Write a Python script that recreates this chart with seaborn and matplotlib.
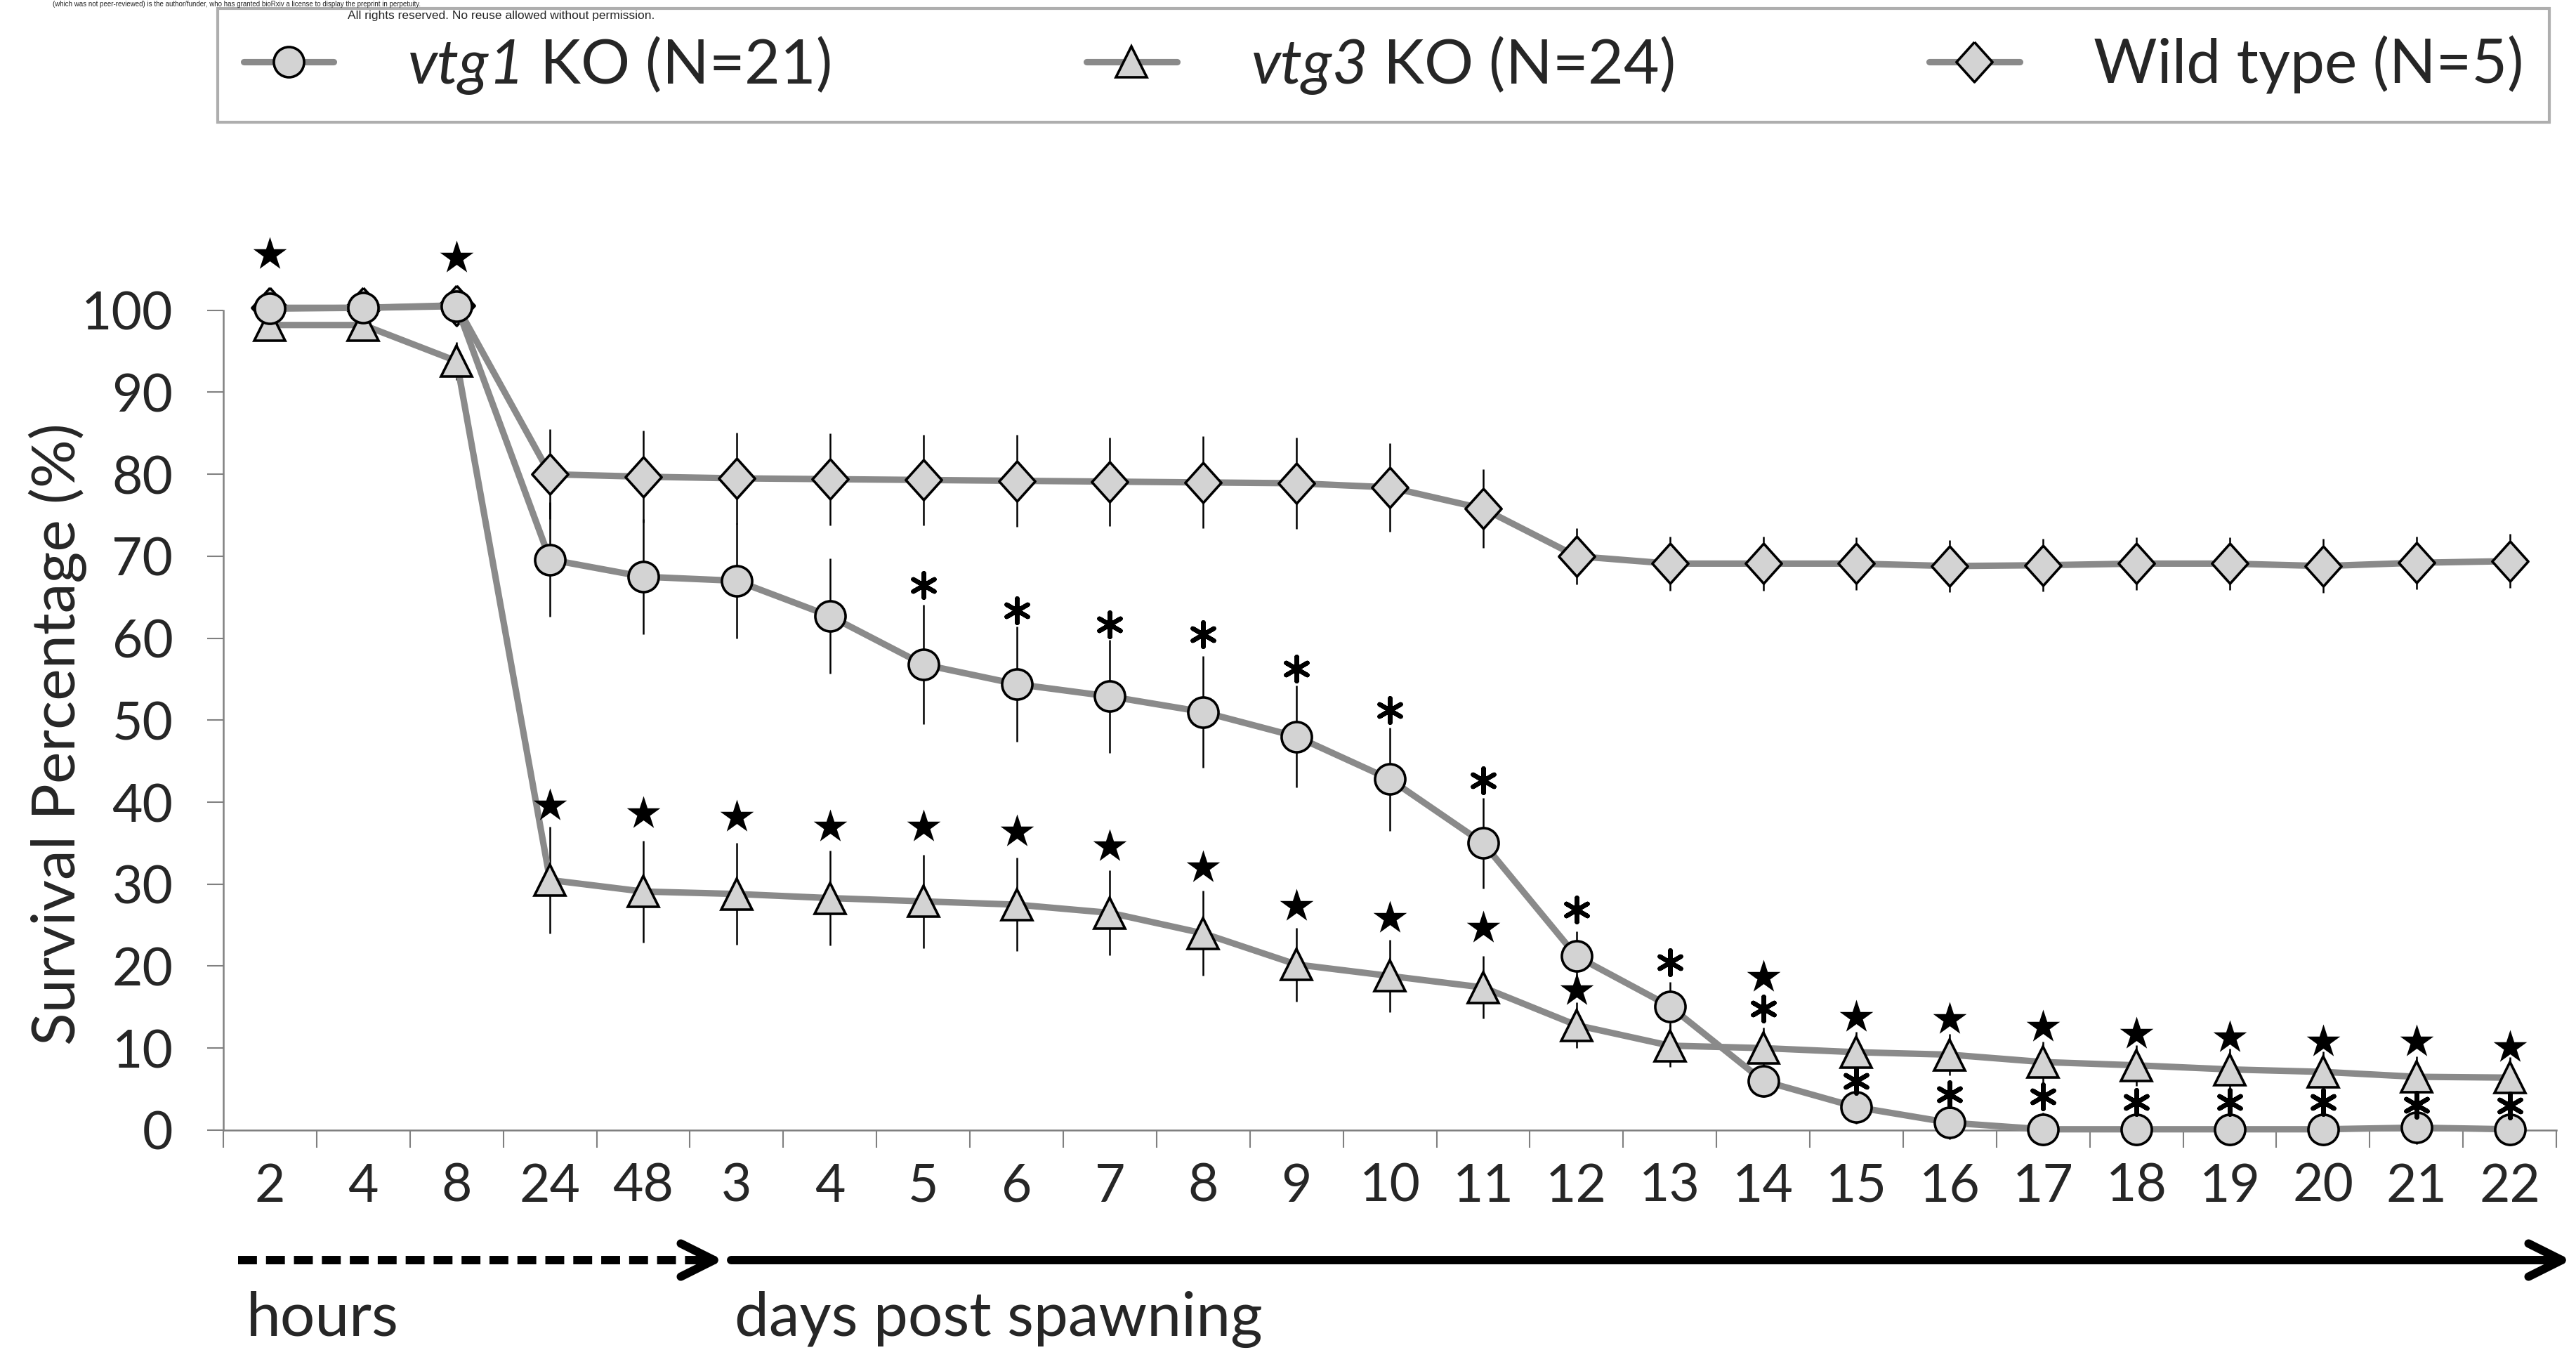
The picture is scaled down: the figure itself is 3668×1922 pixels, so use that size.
import numpy as np
import pandas as pd
import matplotlib.pyplot as plt
import seaborn as sns
from matplotlib.lines import Line2D

# x categories: hours first, then days post spawning
time_labels = ["2", "4", "8", "24", "48", "3", "4", "5", "6", "7", "8", "9", "10",
               "11", "12", "13", "14", "15", "16", "17", "18", "19", "20", "21", "22"]

# survival (%)
vtg1_ko = [100.2, 100.3, 100.5, 69.6, 67.5, 67.0, 62.7, 56.8, 54.4, 52.9, 51.0, 48.0, 42.8,
           35.0, 21.2, 15.1, 6.0, 2.8, 0.9, 0.1, 0.1, 0.1, 0.1, 0.3, 0.1]
vtg1_err = [0, 0, 0, 7.0, 7.0, 7.0, 7.0, 7.3, 7.0, 6.9, 6.8, 6.2, 6.3,
            5.5, 3.0, 3.0, 2.0, 2.0, 2.0, 2.0, 2.0, 2.0, 2.0, 2.0, 2.0]

vtg3_ko = [98.2, 98.2, 93.8, 30.5, 29.1, 28.8, 28.3, 27.9, 27.5, 26.5, 24.0, 20.2, 18.8,
           17.4, 12.8, 10.3, 10.0, 9.5, 9.2, 8.3, 7.9, 7.4, 7.1, 6.5, 6.4]
vtg3_err = [0, 0, 2.3, 6.5, 6.2, 6.2, 5.8, 5.7, 5.7, 5.2, 5.2, 4.5, 4.4,
            3.8, 2.8, 2.6, 2.5, 2.5, 2.5, 2.5, 2.5, 2.5, 2.5, 2.5, 2.5]

wild_type = [100.3, 100.3, 100.6, 80.0, 79.7, 79.5, 79.4, 79.3, 79.2, 79.1, 79.0, 78.9, 78.4,
             75.8, 70.0, 69.1, 69.1, 69.1, 68.8, 68.9, 69.1, 69.1, 68.8, 69.2, 69.4]
wild_err = [0, 0, 0, 5.5, 5.6, 5.6, 5.6, 5.5, 5.6, 5.4, 5.6, 5.6, 5.4,
            4.8, 3.4, 3.3, 3.3, 3.2, 3.2, 3.2, 3.2, 3.2, 3.3, 3.2, 3.3]

# significance marks (category index, height)
star_idx = [0, 2, 3, 4, 5, 6, 7, 8, 9, 10, 11, 12, 13, 14, 16, 17, 18, 19, 20, 21, 22, 23, 24]
star_y = [106.8, 106.4, 39.6, 38.6, 38.2, 37.0, 37.0, 36.4, 34.6, 32.0, 27.3, 25.9, 24.7,
          17.0, 18.7, 13.8, 13.5, 12.6, 11.7, 11.3, 10.8, 10.8, 10.1]
asterisk_idx = [7, 8, 9, 10, 11, 12, 13, 14, 15, 16, 17, 18, 19, 20, 21, 22, 23, 24]
asterisk_y = [66.5, 63.4, 61.7, 60.5, 56.3, 51.2, 42.7, 26.9, 20.5, 14.8, 6.0, 4.4, 4.1,
              3.4, 3.4, 3.4, 3.1, 3.0]

legend_labels = [r"$\mathit{vtg1}$ KO (N=21)", r"$\mathit{vtg3}$ KO (N=24)", "Wild type (N=5)"]

sns.set_style("ticks")
plt.rcParams["font.family"] = ["Lato", "DejaVu Sans"]
plt.rcParams["mathtext.fontset"] = "custom"
plt.rcParams["mathtext.rm"] = "Lato:italic"
plt.rcParams["mathtext.it"] = "Lato:italic"

line_gray = "#8a8a8a"
face_gray = "#d3d3d3"
axis_gray = "#808080"

fig = plt.figure(figsize=(36.68, 19.22), dpi=100)
ax = fig.add_axes([0.0867, 0.1629, 0.9057, 0.668])

x = np.arange(len(time_labels))
df = pd.DataFrame({"t": x, "vtg1": vtg1_ko, "vtg3": vtg3_ko, "wt": wild_type})

diamond = [(0, 1), (0.9, 0), (0, -1), (-0.9, 0), (0, 1)]
series = [
    ("wt", wild_err, diamond, 41, legend_labels[2], 3.0),
    ("vtg3", vtg3_err, "^", 32, legend_labels[1], 3.1),
    ("vtg1", vtg1_err, "o", 31, legend_labels[0], 3.2),
]
for col, err, mk, ms, lab, z in series:
    ax.errorbar(df["t"], df[col], yerr=err, fmt="none", ecolor="black",
                elinewidth=1.8, capsize=0, zorder=2.5, clip_on=False)
    sns.lineplot(data=df, x="t", y=col, ax=ax, color=line_gray, linewidth=6.6,
                 marker=mk, markersize=ms, markerfacecolor=face_gray,
                 markeredgecolor="black", markeredgewidth=2.6, label=lab,
                 legend=False, errorbar=None, zorder=z, clip_on=False)

sns.scatterplot(x=star_idx, y=star_y, ax=ax, marker="*", s=1300, color="black",
                edgecolor="black", linewidth=0, zorder=4, clip_on=False, legend=False)
sns.scatterplot(x=asterisk_idx, y=asterisk_y, ax=ax, marker=(6, 2, 0), s=620,
                color="black", linewidth=4.6, zorder=4, clip_on=False, legend=False)

ax.set_xlim(-0.5, len(time_labels) - 0.5)
ax.set_ylim(0, 110)
ax.set_yticks(np.arange(0, 101, 10))
ax.set_xticks(x)
ax.set_xticklabels(time_labels)
ax.set_xticks(np.arange(-0.5, len(time_labels), 1), minor=True)
ax.tick_params(axis="x", which="major", length=0, pad=33, labelsize=54)
ax.tick_params(axis="x", which="minor", length=18, width=1.5, color=axis_gray, direction="out")
ax.tick_params(axis="y", length=16.5, width=1.5, color=axis_gray, pad=35, labelsize=54,
               direction="out")
ax.set_xlabel("")
ax.set_ylabel("Survival Percentage (%)", fontsize=62)
ax.yaxis.label.set_va("center")
ax.yaxis.set_label_coords(-0.071, 0.439)

sns.despine(ax=ax)
for side in ["left", "bottom"]:
    ax.spines[side].set_color(axis_gray)
    ax.spines[side].set_linewidth(1.8)
ax.spines["left"].set_bounds(0, 100)

# legend box across the top
handles, labels = ax.get_legend_handles_labels()
order = [labels.index(l) for l in legend_labels]
leg = fig.legend([handles[i] for i in order], legend_labels, ncol=3, loc="center",
                 mode="expand", bbox_to_anchor=(310 / 3668, 1 - 176 / 1922, 3320 / 3668, 166 / 1922),
                 fontsize=63, frameon=True, fancybox=False, edgecolor="#9a9a9a",
                 handlelength=1.47, handletextpad=1.2, borderpad=0.42, borderaxespad=0)
leg.get_frame().set_linewidth(3)
leg.set_zorder(4)

# time axis arrows and captions
arrow_y = 1 - 1794 / 1922
fig.add_artist(Line2D([339 / 3668, 1000 / 3668], [arrow_y, arrow_y], transform=fig.transFigure,
                      color="black", linewidth=8.6, linestyle=(0, (2.25, 1.08))))
ax.annotate("", xy=(1030 / 3668, arrow_y), xytext=(995 / 3668, arrow_y),
            xycoords="figure fraction", textcoords="figure fraction",
            arrowprops=dict(arrowstyle="->,head_length=1.7,head_width=0.85", lw=8.6,
                            color="black", mutation_scale=20, shrinkA=0, shrinkB=0))
ax.annotate("", xy=(3661 / 3668, arrow_y), xytext=(1041 / 3668, arrow_y),
            xycoords="figure fraction", textcoords="figure fraction",
            arrowprops=dict(arrowstyle="->,head_length=1.7,head_width=0.85", lw=8.6,
                            color="black", mutation_scale=20, shrinkA=0, shrinkB=0))
fig.text(351 / 3668, 1 - 1902 / 1922, "hours", fontsize=63, va="baseline")
fig.text(1046 / 3668, 1 - 1902 / 1922, "days post spawning", fontsize=63, va="baseline")

# preprint notice at the very top
fig.text(75 / 3668, 0.9997,
         "(which was not peer-reviewed) is the author/funder, who has granted bioRxiv a license "
         "to display the preprint in perpetuity.",
         fontsize=7, family=["Liberation Sans", "DejaVu Sans"], va="top", zorder=6)
fig.text(714 / 3668, 1 - 27 / 1922, "All rights reserved. No reuse allowed without permission.",
         fontsize=12.5, family=["Liberation Sans", "DejaVu Sans"], va="baseline", ha="center",
         zorder=6)

fig.savefig("out.png", dpi=100)
